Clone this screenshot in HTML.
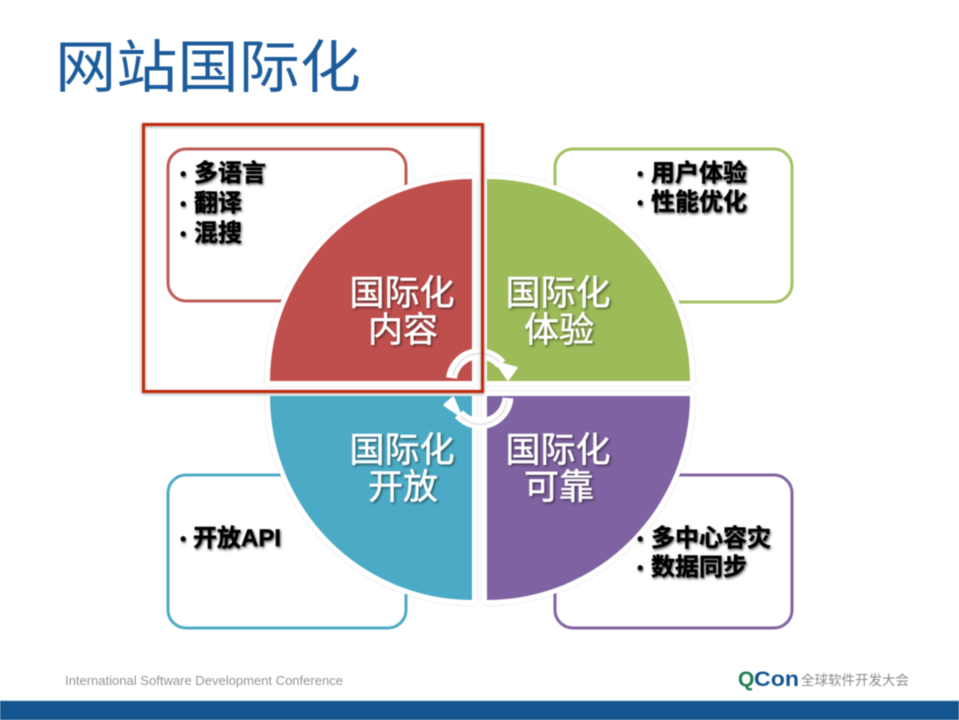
<!DOCTYPE html>
<html lang="zh">
<head>
<meta charset="utf-8">
<title>网站国际化</title>
<style>
html,body{margin:0;padding:0;background:#fff;}
body{width:959px;height:720px;overflow:hidden;position:relative;}
svg{position:absolute;left:0;top:0;filter:blur(.55px);}
text{font-family:"Liberation Sans","Noto Sans CJK SC",sans-serif;}
.b{font-size:24px;font-weight:700;fill:#000;stroke:#000;stroke-width:.45px;filter:url(#ts);}
.d{font-size:18px;font-weight:700;fill:#000;filter:url(#ts);}
.w{font-size:35px;fill:#fff;stroke:#fff;stroke-width:.5px;text-anchor:middle;filter:url(#tw);}
</style>
</head>
<body>
<svg width="959" height="720" viewBox="0 0 959 720" xmlns="http://www.w3.org/2000/svg">
<defs>
<filter id="ts" x="-10%" y="-20%" width="120%" height="150%">
<feDropShadow dx="1" dy="1.5" stdDeviation="1.3" flood-color="#000" flood-opacity=".65"/>
</filter>
<filter id="tw" x="-10%" y="-20%" width="125%" height="150%">
<feDropShadow dx="1.5" dy="1.5" stdDeviation="1.2" flood-color="#000" flood-opacity=".5"/>
</filter>
<filter id="sh" x="-10%" y="-10%" width="120%" height="120%">
<feDropShadow dx="0" dy="0" stdDeviation="1" flood-color="#000" flood-opacity=".16"/>
</filter>
<filter id="fr" x="-5%" y="-5%" width="110%" height="110%">
<feDropShadow dx="0" dy="1" stdDeviation="1.5" flood-color="#000" flood-opacity=".4"/>
</filter>
</defs>

<rect width="959" height="720" fill="#fff"/>

<text transform="translate(55 87) scale(1 .93)" x="0" y="0" font-size="61" fill="#1d5c9b" textLength="306" lengthAdjust="spacingAndGlyphs">网站国际化</text>

<!-- outer rounded boxes -->
<rect x="168" y="149" width="238" height="152" rx="18" fill="#fff" stroke="#bf5b58" stroke-width="3"/>
<rect x="555" y="149" width="237" height="153" rx="18" fill="#fff" stroke="#a3c264" stroke-width="3"/>
<rect x="168" y="475" width="238" height="153" rx="18" fill="#fff" stroke="#4fabc6" stroke-width="3"/>
<rect x="555" y="475" width="237" height="153" rx="18" fill="#fff" stroke="#8264a2" stroke-width="3"/>

<!-- quadrants -->
<g stroke="#fff" stroke-width="10" stroke-linejoin="round" paint-order="stroke" filter="url(#sh)">
<path d="M472 381H270A202 202 0 0 1 472 179Z" fill="#bf504d"/>
<path d="M487 381V179A203 202 0 0 1 690 381Z" fill="#9dbb59"/>
<path d="M472 396V600A202 204 0 0 1 270 396Z" fill="#4babc6"/>
<path d="M487 396H690A203 204 0 0 1 487 600Z" fill="#7f62a1"/>
</g>

<!-- circular arrows -->
<g fill="none">
<path d="M451.500 378A28 28 0 0 1 501 364" stroke="#fff" stroke-width="11"/>
<path d="M453 376A27 27 0 0 1 501 364" stroke="#e6dede" stroke-width="1.500"/>
<path d="M508 398A28 28 0 0 1 459 414" stroke="#fff" stroke-width="11"/>
<path d="M507 400A27 27 0 0 1 459 414" stroke="#e6dede" stroke-width="1.500"/>
</g>
<path d="M497 363L516 368L508 379Z" fill="#fff" stroke="#fff" stroke-width="3" stroke-linejoin="round"/>
<path d="M445 405L453 398L460 415Z" fill="#fff" stroke="#fff" stroke-width="3" stroke-linejoin="round"/>

<!-- highlight frame -->
<rect x="143.500" y="124.500" width="339" height="267" fill="none" stroke="#c2290f" stroke-width="3" filter="url(#fr)"/>

<!-- quadrant labels -->
<text class="w" x="402" y="305">国际化</text>
<text class="w" x="403" y="342">内容</text>
<text class="w" x="558" y="305">国际化</text>
<text class="w" x="559" y="342">体验</text>
<text class="w" x="402" y="462">国际化</text>
<text class="w" x="403" y="499">开放</text>
<text class="w" x="558" y="462">国际化</text>
<text class="w" x="559" y="499">可靠</text>

<!-- bullet lists -->
<text class="d" x="180" y="180">•</text><text class="b" x="194" y="181">多语言</text>
<text class="d" x="180" y="210">•</text><text class="b" x="194" y="211">翻译</text>
<text class="d" x="180" y="240">•</text><text class="b" x="194" y="241">混搜</text>
<text class="d" x="637" y="180">•</text><text class="b" x="651" y="181">用户体验</text>
<text class="d" x="637" y="209">•</text><text class="b" x="651" y="210">性能优化</text>
<text class="d" x="180" y="545">•</text><text class="b" x="193" y="546">开放API</text>
<text class="d" x="637" y="545">•</text><text class="b" x="651" y="546">多中心容灾</text>
<text class="d" x="637" y="574">•</text><text class="b" x="651" y="575">数据同步</text>

<!-- footer -->
<text x="65" y="685" font-size="13" fill="#949494" textLength="278" lengthAdjust="spacingAndGlyphs">International Software Development Conference</text>
<text x="738" y="686" font-size="21" font-weight="700" fill="#1f7d4d">Q</text>
<text x="754" y="686" font-size="21" font-weight="700" fill="#17578f" textLength="45" lengthAdjust="spacingAndGlyphs">Con</text>
<text x="801" y="685" font-size="13.500" fill="#8a8a8a" textLength="108" lengthAdjust="spacing">全球软件开发大会</text>
<rect x="0" y="700" width="959" height="1" fill="#cfe3f0"/>
<rect x="0" y="701" width="959" height="19" fill="#14558f"/>
</svg>
</body>
</html>
